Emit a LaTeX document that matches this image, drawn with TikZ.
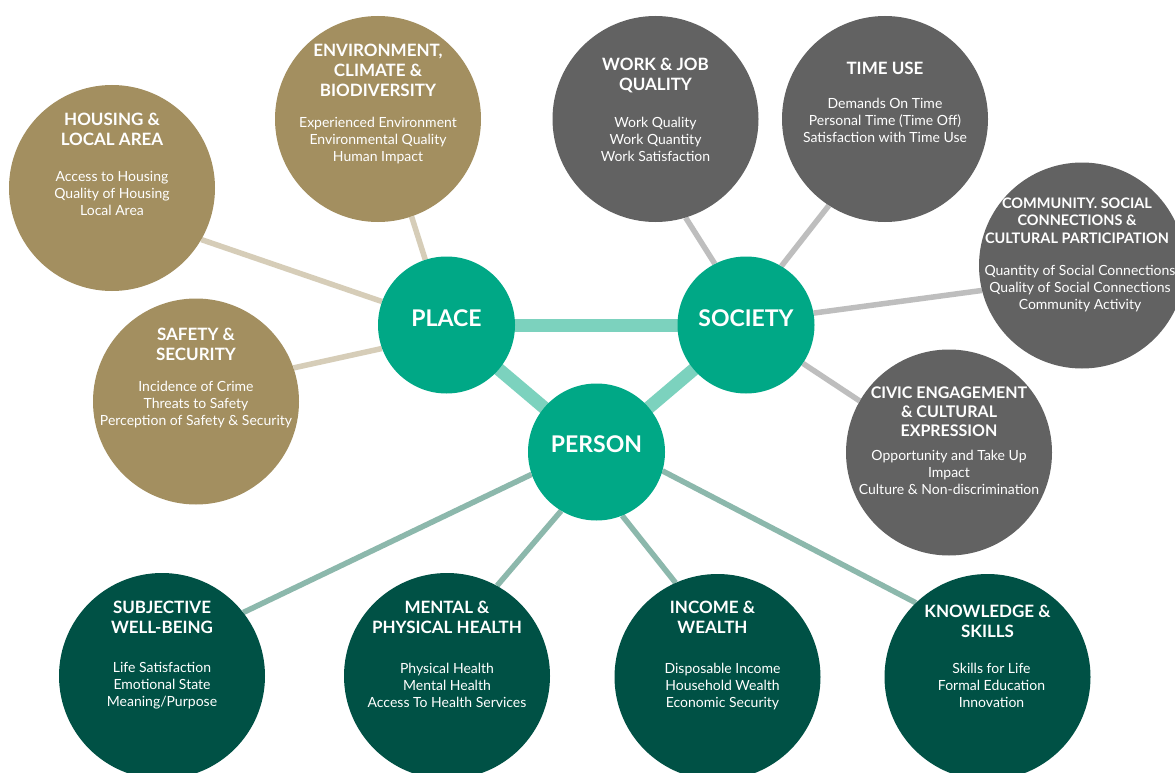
\documentclass[tikz,border=0pt]{standalone}
\usepackage{fontspec}
\setmainfont{Lato}
\usetikzlibrary{positioning,backgrounds}

\definecolor{placetan}{HTML}{A38F60}
\definecolor{societygray}{HTML}{626262}
\definecolor{hubteal}{HTML}{00A886}
\definecolor{persongreen}{HTML}{005145}
\definecolor{tanlink}{HTML}{D6CDB8}
\definecolor{graylink}{HTML}{BEBEBE}
\definecolor{greenlink}{HTML}{8CB8AC}
\definecolor{hublink}{HTML}{7CD2BE}

\tikzset{
  hubball/.style={circle, fill=hubteal, minimum size=137pt, inner sep=0pt},
  hubtxt/.style={text=white, inner sep=0pt, font=\fontsize{23}{26}\selectfont\bfseries},
  topicball/.style={circle, fill=#1, minimum size=206pt, inner sep=0pt},
  headtxt/.style={anchor=north, align=center, text=white, inner sep=0pt, font=\fontsize{17}{20}\selectfont\bfseries},
  itemtxt/.style={anchor=north, align=center, text=white, inner sep=0pt, font=\fontsize{14}{17}\selectfont},
  spoke/.style={draw=#1, line width=5.5pt},
  hubband/.style={draw=hublink, line width=13pt}
}

\begin{document}
\begin{tikzpicture}[x=1pt, y=-1pt]
  \useasboundingbox (0,0) rectangle (1175,773);
  \clip (0,0) rectangle (1175,773);

  % the three hubs
  \node[hubball] (place) at (446.5,325) {};
  \node[hubball] (society) at (746,325) {};
  \node[hubball] (person) at (596.5,452) {};
  \node[hubtxt] (placetxt) at ([yshift=7pt]place.center) {PLACE};
  \node[hubtxt] (societytxt) at ([yshift=7pt]society.center) {SOCIETY};
  \node[hubtxt] (persontxt) at ([yshift=8pt]person.center) {PERSON};

  % place
  \node[topicball=placetan] (housing) at (112,188) {};
  \node[headtxt] (housinghd) at ([yshift=75.5pt]housing.center) {HOUSING \&\\LOCAL AREA};
  \node[itemtxt] (housingit) at ([yshift=17pt]housing.center) {Access to Housing\\Quality of Housing\\Local Area};

  \node[topicball=placetan] (environment) at (378,119) {};
  \node[headtxt] (environmenthd) at ([yshift=75.5pt]environment.center) {ENVIRONMENT,\\CLIMATE \&\\BIODIVERSITY};
  \node[itemtxt] (environmentit) at ([yshift=2.5pt]environment.center) {Experienced Environment\\Environmental Quality\\Human Impact};

  \node[topicball=placetan] (safety) at (196,401.5) {};
  \node[headtxt] (safetyhd) at ([yshift=73.5pt]safety.center) {SAFETY \&\\SECURITY};
  \node[itemtxt] (safetyit) at ([yshift=21pt]safety.center) {Incidence of Crime\\Threats to Safety\\Perception of Safety \& Security};

  % society
  \node[topicball=societygray] (work) at (655.5,119) {};
  \node[headtxt] (workhd) at ([yshift=61.5pt]work.center) {WORK \& JOB\\QUALITY};
  \node[itemtxt] (workit) at ([yshift=2.5pt]work.center) {Work Quality\\Work Quantity\\Work Satisfaction};

  \node[topicball=societygray] (timeuse) at (885,119) {};
  \node[headtxt] (timeusehd) at ([yshift=57.5pt]timeuse.center) {TIME USE};
  \node[itemtxt] (timeuseit) at ([yshift=21.5pt]timeuse.center) {Demands On Time\\Personal Time (Time Off)\\Satisfaction with Time Use};

  \node[topicball=societygray] (community) at (1082,265.5) {};
  \node[headtxt, font=\fontsize{14.5}{17.5}\selectfont\bfseries] (communityhd) at ([xshift=-5pt, yshift=68pt]community.center) {COMMUNITY. SOCIAL\\CONNECTIONS \&\\CULTURAL PARTICIPATION};
  \node[itemtxt] (communityit) at ([xshift=-2pt, yshift=1pt]community.center) {Quantity of Social Connections\\Quality of Social Connections\\Community Activity};

  \node[topicball=societygray] (civic) at (949,452.5) {};
  \node[headtxt, font=\fontsize{16}{19}\selectfont\bfseries] (civichd) at ([yshift=65.5pt]civic.center) {CIVIC ENGAGEMENT\\\& CULTURAL\\EXPRESSION};
  \node[itemtxt] (civicit) at ([yshift=3pt]civic.center) {Opportunity and Take Up\\Impact\\Culture \& Non-discrimination};

  % person
  \node[topicball=persongreen] (wellbeing) at (162,676) {};
  \node[headtxt] (wellbeinghd) at ([yshift=75.5pt]wellbeing.center) {SUBJECTIVE\\WELL-BEING};
  \node[itemtxt] (wellbeingit) at ([yshift=13.5pt]wellbeing.center) {Life Satisfaction\\Emotional State\\Meaning/Purpose};

  \node[topicball=persongreen] (health) at (447,676) {};
  \node[headtxt] (healthhd) at ([yshift=75.5pt]health.center) {MENTAL \&\\PHYSICAL HEALTH};
  \node[itemtxt] (healthit) at ([yshift=13.5pt]health.center) {Physical Health\\Mental Health\\Access To Health Services};

  \node[topicball=persongreen] (income) at (717.5,677) {};
  \node[headtxt] (incomehd) at ([xshift=-5pt, yshift=76.5pt]income.center) {INCOME \&\\WEALTH};
  \node[itemtxt] (incomeit) at ([xshift=5pt, yshift=14.5pt]income.center) {Disposable Income\\Household Wealth\\Economic Security};

  \node[topicball=persongreen] (knowledge) at (987.5,677) {};
  \node[headtxt] (knowledgehd) at ([yshift=72.5pt]knowledge.center) {KNOWLEDGE \&\\SKILLS};
  \node[itemtxt] (knowledgeit) at ([xshift=4pt, yshift=14.5pt]knowledge.center) {Skills for Life\\Formal Education\\Innovation};

  % connectors behind the balls
  \begin{scope}[on background layer]
    \fill[white] (0,0) rectangle (1175,773);
    \draw[hubband] (place.center) -- (society.center);
    \draw[hubband] (place.center) -- (person.center);
    \draw[hubband] (society.center) -- (person.center);

    \draw[spoke=tanlink] (housing.-30) -- (place.160);
    \draw[spoke=tanlink] (environment.-71) -- (place.108);
    \draw[spoke=tanlink] (safety.19) -- (place.200);

    \draw[spoke=graylink] (work.-73) -- (society.117);
    \draw[spoke=graylink] (timeuse.-123) -- (society.59);
    \draw[spoke=graylink] (community.194) -- (society.10);
    \draw[spoke=graylink] (civic.150) -- (society.-34);

    \draw[spoke=greenlink] (wellbeing.38) -- (person.199);
    \draw[spoke=greenlink] (health.61) -- (person.239);
    \draw[spoke=greenlink] (income.114) -- (person.-68);
    \draw[spoke=greenlink] (knowledge.134) -- (person.-16);
  \end{scope}
\end{tikzpicture}
\end{document}
